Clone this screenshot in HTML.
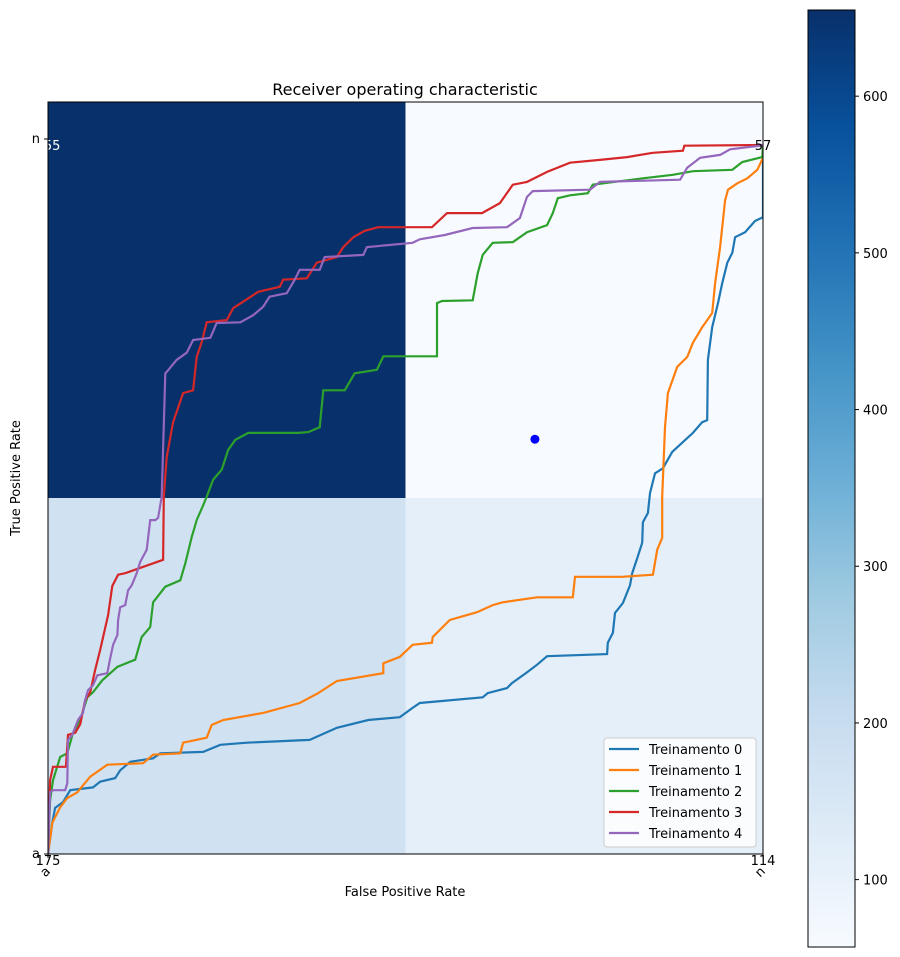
<!DOCTYPE html>
<html><head><meta charset="utf-8"><style>
html,body{margin:0;padding:0;background:#fff;}
svg{display:block;font-family:"DejaVu Sans","Liberation Sans",sans-serif;}
</style></head><body>
<svg id="chart" width="900" height="957" viewBox="0 0 900 957" xmlns="http://www.w3.org/2000/svg">
<defs>
<linearGradient id="blues" x1="0" y1="1" x2="0" y2="0">
<stop offset="0" stop-color="#f7fbff"/><stop offset="0.125" stop-color="#deebf7"/><stop offset="0.25" stop-color="#c6dbef"/><stop offset="0.375" stop-color="#9ecae1"/><stop offset="0.5" stop-color="#6baed6"/><stop offset="0.625" stop-color="#4292c6"/><stop offset="0.75" stop-color="#2171b5"/><stop offset="0.875" stop-color="#08519c"/><stop offset="1" stop-color="#08306b"/>
</linearGradient>
<clipPath id="plotclip"><rect x="48" y="102" width="715" height="752"/></clipPath>
</defs>
<g id="cells"></g>
<g id="curves" clip-path="url(#plotclip)"></g>
<circle id="dot" r="4.5" fill="#0000ff"/>
<g id="celltext"></g>
<rect x="48" y="102" width="715" height="752" fill="none" stroke="#000" stroke-width="1"/>
<g id="ticks"></g>
<text x="405" y="95" font-size="16" text-anchor="middle">Receiver operating characteristic</text>
<text x="405" y="896" font-size="13" text-anchor="middle">False Positive Rate</text>
<text x="20" y="478" font-size="13" text-anchor="middle" transform="rotate(-90 20 478)">True Positive Rate</text>
<g id="legend"></g>
<rect x="808" y="10" width="47" height="937" fill="url(#blues)" stroke="#000" stroke-width="1"/>
<g id="cbticks"></g>
</svg>
<script>
const seriesNames = ["Treinamento 0","Treinamento 1","Treinamento 2","Treinamento 3","Treinamento 4"];
const seriesColors = ["#1f77b4","#ff7f0e","#2ca02c","#d62728","#9467bd"];
// values in percent: [fpr, tpr]
const roc0 = [[0,0],[0.6,4.4],[1.0,6.5],[2.1,7.3],[3.1,9.0],[6.3,9.4],[7.3,10.2],[9.4,10.7],[10.1,11.8],[11.5,13.0],[14.7,13.5],[15.7,14.2],[21.7,14.4],[24.1,15.4],[27.8,15.7],[36.6,16.1],[40.4,17.8],[44.8,18.9],[49.2,19.3],[51.0,20.6],[52.0,21.3],[60.8,22.1],[61.5,22.7],[64.2,23.4],[64.9,24.1],[67.1,25.7],[68.4,26.7],[69.8,27.9],[78.2,28.2],[78.3,29.8],[79.0,31.2],[79.3,34.0],[80.4,35.4],[81.4,37.9],[81.7,39.6],[82.4,41.7],[83.1,43.9],[83.2,46.8],[83.9,48.1],[84.2,50.9],[84.9,53.7],[86.0,54.4],[87.3,56.7],[88.8,58.1],[90.2,59.4],[91.5,60.9],[92.2,61.2],[92.3,69.7],[92.9,74.3],[93.7,77.7],[94.3,80.5],[95.0,83.4],[95.7,84.8],[96.1,87.0],[97.5,87.7],[98.9,89.3],[100,89.8],[100,100]];
const roc1 = [[0,0],[0.6,4.4],[1.7,6.6],[2.7,7.9],[4.1,8.7],[5.9,10.9],[8.3,12.6],[13.3,12.8],[14.7,14.0],[18.5,14.2],[18.9,15.7],[22.2,16.4],[22.9,18.2],[24.5,18.9],[30.1,19.9],[35.2,21.3],[37.8,22.7],[40.4,24.4],[46.9,25.5],[46.9,26.9],[49.2,27.8],[51.0,29.5],[53.7,29.8],[53.8,30.6],[56.2,33.0],[60.0,34.1],[62.2,35.1],[63.6,35.5],[68.4,36.2],[73.4,36.2],[73.7,39.1],[80.3,39.1],[84.6,39.4],[85.2,42.9],[85.9,44.6],[85.9,50.4],[86.3,60.2],[86.7,65.0],[88.0,68.7],[89.4,70.1],[90.2,72.1],[91.5,74.3],[92.9,76.3],[93.3,80.5],[94.0,85.6],[94.7,92.2],[95.1,93.7],[96.4,94.6],[97.8,95.3],[99.2,96.5],[100,98.2],[100,100]];
const roc2 = [[0,0],[0.3,7.6],[0.7,10.4],[1.7,13.7],[2.7,14.2],[3.5,17.1],[4.5,18.9],[5.5,22.1],[6.3,22.8],[7.6,24.5],[9.7,26.4],[12.2,27.4],[13.1,30.6],[14.3,32.0],[14.7,35.5],[16.4,37.7],[18.5,38.6],[19.2,41.0],[20.1,44.7],[20.8,47.1],[21.7,49.2],[22.2,50.4],[23.1,52.8],[24.3,54.2],[25.2,57.0],[26.2,58.4],[28.0,59.4],[35.0,59.4],[36.4,59.5],[38.0,60.2],[38.5,65.4],[41.5,65.4],[42.9,67.8],[46.0,68.3],[46.9,70.2],[54.4,70.2],[54.4,77.7],[55.1,78.0],[59.4,78.1],[60.1,81.9],[60.8,84.5],[62.2,86.2],[65.0,86.3],[67.0,87.7],[69.8,88.7],[70.6,90.4],[71.3,92.5],[73.0,92.9],[75.5,93.2],[76.2,94.4],[83.2,95.3],[87.4,95.8],[90.2,96.3],[95.7,96.5],[97.1,97.6],[99.9,98.3],[100,100]];
const roc3 = [[0,0],[0.3,10.4],[0.7,12.3],[2.5,12.3],[2.8,16.8],[3.8,17.1],[4.5,18.3],[5.2,21.7],[5.9,22.8],[6.6,26.0],[7.3,28.8],[8.4,33.7],[9.0,37.8],[9.8,39.4],[10.8,39.6],[16.1,41.5],[16.2,50.4],[16.6,56.0],[17.5,60.9],[18.9,65.0],[20.3,65.4],[20.8,70.1],[21.5,72.2],[22.2,75.0],[25.0,75.3],[25.9,77.0],[27.3,77.9],[29.4,79.3],[32.4,80.0],[32.9,81.0],[36.2,81.2],[37.6,83.4],[40.4,84.2],[41.3,85.6],[42.7,87.0],[44.3,87.9],[46.2,88.4],[53.7,88.4],[55.8,90.4],[60.7,90.4],[63.2,91.8],[65.0,94.4],[67.0,94.8],[69.8,96.2],[73.0,97.5],[77.2,97.9],[81.0,98.3],[84.6,98.9],[88.8,99.2],[89.0,99.9],[100,100]];
const roc4 = [[0,0],[0.3,8.7],[0.7,9.0],[2.4,9.0],[2.7,10.0],[2.8,16.1],[3.4,16.8],[4.2,18.9],[4.9,19.9],[5.2,21.7],[5.6,23.1],[6.3,23.8],[6.9,25.2],[8.3,25.5],[8.7,27.6],[9.1,29.5],[9.7,30.9],[9.8,33.0],[10.1,34.8],[10.8,35.1],[11.2,37.2],[11.7,37.9],[12.4,39.6],[12.9,41.2],[13.8,42.9],[14.3,47.1],[15.0,47.1],[15.4,47.4],[15.9,50.4],[16.4,67.8],[16.6,68.0],[18.0,69.7],[19.4,70.7],[20.3,72.5],[22.7,72.8],[23.6,74.9],[26.9,75.0],[28.7,76.0],[30.1,77.2],[31.0,78.6],[33.4,79.1],[34.5,81.0],[35.2,82.4],[38.0,82.4],[38.7,84.2],[44.1,84.5],[44.6,85.6],[51.0,86.2],[52.0,86.7],[55.5,87.3],[59.4,88.3],[64.2,88.4],[66.0,89.7],[67.0,92.7],[67.8,93.5],[75.8,93.7],[77.2,94.8],[88.4,95.1],[89.4,96.8],[91.2,98.2],[94.0,98.6],[95.4,99.4],[99.6,99.9],[100,100]];
const rocSeries = [roc0, roc1, roc2, roc3, roc4];
const operatingPoint = [68.1, 58.5];
// confusion matrix: rows (n, a), cols (a, n)
const cmValues = [[655, 57],[175, 114]];
const tickLabels = ["a","n"];
const cbTicks = [100,200,300,400,500,600];
const cbMin = 57, cbMax = 655;

const NS = "http://www.w3.org/2000/svg";
const X0 = 48, X1 = 763, Y0 = 854, Y1 = 145;
const xs = v => X0 + (X1 - X0) * v / 100;
const ys = v => Y0 - (Y0 - Y1) * v / 100;
const cbY = v => 947 - (947 - 10) * (v - cbMin) / (cbMax - cbMin);
const stops = [[0,[247,251,255]],[0.125,[222,235,247]],[0.25,[198,219,239]],[0.375,[158,202,225]],[0.5,[107,174,214]],[0.625,[66,146,198]],[0.75,[33,113,181]],[0.875,[8,81,156]],[1,[8,48,107]]];
function blues(t){t=Math.max(0,Math.min(1,t));for(let i=1;i<stops.length;i++){if(t<=stops[i][0]){const a=stops[i-1],b=stops[i];const f=(t-a[0])/(b[0]-a[0]);const c=a[1].map((v,k)=>Math.round(v+(b[1][k]-v)*f));return `rgb(${c.join(",")})`;}}return "rgb(8,48,107)";}
function mk(tag, attrs, parent){const e=document.createElementNS(NS,tag);for(const k in attrs)e.setAttribute(k,attrs[k]);parent.appendChild(e);return e;}

const cells = document.getElementById("cells");
const cellTxt = document.getElementById("celltext");
const cw = (X1 - X0) / 2;
const rowEdges = [102, 498, 854];
const textPos = [[[X0,150],[X1,150]],[[X0,865],[X1,865]]];
for (let r = 0; r < 2; r++) for (let c = 0; c < 2; c++) {
  const v = cmValues[r][c];
  const t = (v - cbMin) / (cbMax - cbMin);
  const rc = mk("rect",{x:X0+c*cw,y:rowEdges[r],width:cw+0.5,height:rowEdges[r+1]-rowEdges[r]+0.5,fill:blues(t)},cells);
  
  
  const tx = mk("text",{x:textPos[r][c][0],y:textPos[r][c][1],"font-size":"13","text-anchor":"middle",fill:t>0.5?"#fff":"#000"},cellTxt);
  tx.textContent = v;
  
  
}

const curves = document.getElementById("curves");
rocSeries.forEach((s, i) => {
  const p = mk("polyline",{points:s.map(d=>xs(d[0]).toFixed(1)+","+ys(d[1]).toFixed(1)).join(" "),fill:"none",stroke:seriesColors[i],"stroke-width":"2.2","stroke-linejoin":"miter"},curves);
  
  
});
const dot = document.getElementById("dot");
dot.setAttribute("cx", xs(operatingPoint[0]));
dot.setAttribute("cy", ys(operatingPoint[1]));

const ticks = document.getElementById("ticks");
[X0, X1].forEach((x, i) => {
  mk("line",{x1:x,y1:854,x2:x,y2:858,stroke:"#000"},ticks);
  const t = mk("text",{x:x+3,y:872,"font-size":"13","text-anchor":"end",transform:`rotate(-45 ${x+3} 872)`},ticks);
  t.textContent = tickLabels[i];
  
  
});
[[139,"n"],[854,"a"]].forEach(d => {
  mk("line",{x1:44,y1:d[0],x2:48,y2:d[0],stroke:"#000"},ticks);
  const t = mk("text",{x:40,y:d[0]+4,"font-size":"13","text-anchor":"end"},ticks);
  t.textContent = d[1];
  
  
});

const lg = document.getElementById("legend");
mk("rect",{x:604,y:738,width:152,height:109,rx:3,fill:"#fff","fill-opacity":"0.8",stroke:"#ccc"},lg);
seriesNames.forEach((n, i) => {
  const y = 749 + i * 21;
  const l = mk("line",{x1:609,y1:y,x2:639,y2:y,stroke:seriesColors[i],"stroke-width":"2.2"},lg);
  
  
  const t = mk("text",{x:649,y:y+5,"font-size":"13"},lg);
  t.textContent = n;
  
  
});

const cbt = document.getElementById("cbticks");
cbTicks.forEach(v => {
  const y = cbY(v);
  mk("line",{x1:855,y1:y,x2:859,y2:y,stroke:"#000"},cbt);
  const t = mk("text",{x:863,y:y+5,"font-size":"13"},cbt);
  t.textContent = v;
  
  
});
</script>
</body></html>
